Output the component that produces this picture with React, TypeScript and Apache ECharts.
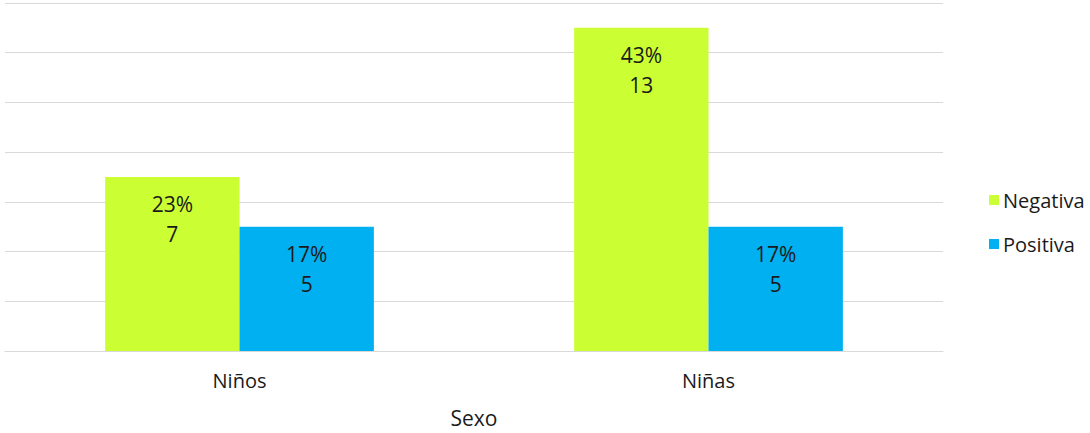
import React, { useEffect, useRef } from "react";
import * as echarts from "echarts";

const categories = ["Niños", "Niñas"];
const negativaValues = [7, 13];
const positivaValues = [5, 5];
const negativaPct = ["23%", "43%"];
const positivaPct = ["17%", "17%"];

const FONT = "'Open Sans', 'Noto Sans', sans-serif";
const TXT = "#1a1a1a";

export default function App() {
  const ref = useRef<HTMLDivElement>(null);
  useEffect(() => {
    if (!ref.current) return;
    const chart = echarts.init(ref.current, undefined, { renderer: "svg" });
    const mkLabel = (pcts: string[]) => ({
      show: true,
      position: "insideTop",
      distance: 12,
      color: TXT,
      fontFamily: FONT,
      fontSize: 21,
      lineHeight: 30,
      formatter: (p: any) => `${pcts[p.dataIndex]}\n${p.value}`,
    });
    chart.setOption({
      animation: false,
      textStyle: { fontFamily: FONT },
      grid: { left: 5, right: 147, top: 3, bottom: 80, containLabel: false },
      legend: {
        orient: "vertical",
        left: 984,
        top: 185,
        itemWidth: 10,
        itemHeight: 10,
        itemGap: 24,
        icon: "rect",
        textStyle: { fontFamily: FONT, fontSize: 20, color: TXT, padding: [0, 0, 0, -1] },
        data: ["Negativa", "Positiva"],
      },
      xAxis: {
        type: "category",
        data: categories,
        name: "Sexo",
        nameLocation: "middle",
        nameGap: 56,
        nameTextStyle: { fontFamily: FONT, fontSize: 21, color: TXT },
        axisLine: { show: true, lineStyle: { color: "#d9d9d9", width: 1 } },
        axisTick: { show: false },
        axisLabel: { fontFamily: FONT, fontSize: 20, color: TXT, margin: 19 },
      },
      yAxis: {
        type: "value",
        min: 0,
        max: 14,
        interval: 2,
        axisLabel: { show: false },
        axisLine: { show: false },
        axisTick: { show: false },
        splitLine: { lineStyle: { color: "#d9d9d9", width: 1 } },
      },
      series: [
        {
          name: "Negativa",
          type: "bar",
          data: negativaValues,
          itemStyle: { color: "#CCFF33" },
          barGap: "0%",
          barCategoryGap: "42.7%",
          label: mkLabel(negativaPct),
        },
        {
          name: "Positiva",
          type: "bar",
          data: positivaValues,
          itemStyle: { color: "#00B0F0" },
          barGap: "0%",
          barCategoryGap: "42.7%",
          label: mkLabel(positivaPct),
        },
      ],
    });
    return () => chart.dispose();
  }, []);
  return <div ref={ref} style={{ width: 1090, height: 433, position: "absolute", left: 0, top: 0 }} />;
}
